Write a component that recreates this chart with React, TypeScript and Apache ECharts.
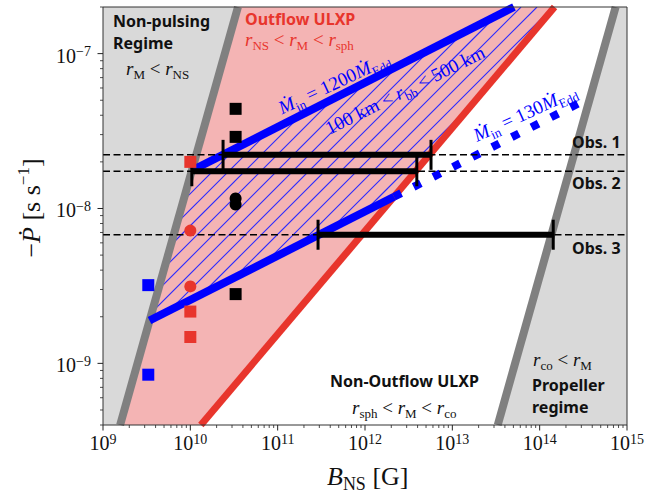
import React, { useEffect, useRef } from 'react';
import * as echarts from 'echarts';

const lg = (v: number) => Math.log10(v);

// Axis extents: magnetic field B_NS [G] and spin-up rate -Pdot [s/s]
const B_RANGE = [1e9, 1e15];
const PDOT_RANGE = [4e-10, 2e-7];
const X_EXPONENTS = [9, 10, 11, 12, 13, 14, 15];
const Y_EXPONENTS = [-9, -8, -7];
const MINOR_MULTIPLES = [2, 3, 4, 5, 6, 7, 8, 9];

// Regime boundaries, each given by its two end points [B, -Pdot]
const nonPulsingEdge = [[1.57e9, 4e-10], [3.51e10, 2e-7]]; // r_M = r_NS
const outflowEdge = [[1.32e10, 4e-10], [1.48e14, 2e-7]]; // r_M = r_sph
const propellerEdge = [[3.31e13, 4e-10], [7.41e14, 2e-7]]; // r_M = r_co

// Constant accretion-rate tracks
const mdot1200Track = [[1.04e10, 1.76e-8], [5.08e13, 2e-7]];
const mdot130Track = [[3.41e9, 1.89e-9], [2.15e12, 1.19e-8]];
const mdot130Extension = [[2.15e12, 1.19e-8], [3.78e14, 5.21e-8]];

// Observed spin-up rates with the allowed field range
const obsLabels = ['Obs. 1', 'Obs. 2', 'Obs. 3'];
const obsPdot = [2.22e-8, 1.74e-8, 6.77e-9];
const obsBMin = [2.37e10, 1.04e10, 2.9e11];
const obsBMax = [5.7e12, 3.92e12, 1.43e14];

// Known sources [B, -Pdot]
const blackSquares = [[3.3e10, 4.4e-8], [3.3e10, 2.9e-8], [3.3e10, 2.8e-9]];
const blackCircles = [[3.3e10, 1.16e-8], [3.3e10, 1.06e-8]];
const redSquares = [[1e10, 2.0e-8], [1e10, 2.16e-9], [1e10, 1.48e-9]];
const redCircles = [[1e10, 7.2e-9], [1e10, 3.14e-9]];
const blueSquares = [[3.3e9, 3.2e-9], [3.3e9, 8.45e-10]];

const SERIF = "'Liberation Serif', 'Times New Roman', 'DejaVu Serif', serif";
const SANS = "'Noto Sans', 'Open Sans', sans-serif";
const BLUE = '#0000ff';
const HATCH = '#2a2aff';
const RED = '#e8352c';
const INK = '#111111';
const GRAY_EDGE = '#808080';
const GRAY_FILL = '#d9d9d9';
const PINK_FILL = '#f4b4b4';

const toXY = (p: number[]) => [lg(p[0]), lg(p[1])];

const X_MIN = lg(B_RANGE[0]);
const X_MAX = lg(B_RANGE[1]);
const Y_MIN = lg(PDOT_RANGE[0]);
const Y_MAX = lg(PDOT_RANGE[1]);

const grayLeft = [[B_RANGE[0], PDOT_RANGE[0]], nonPulsingEdge[0], nonPulsingEdge[1], [B_RANGE[0], PDOT_RANGE[1]]];
const grayRight = [propellerEdge[0], [B_RANGE[1], PDOT_RANGE[0]], [B_RANGE[1], PDOT_RANGE[1]], propellerEdge[1]];
const pinkRegion = [nonPulsingEdge[0], nonPulsingEdge[1], outflowEdge[1], outflowEdge[0]];
const hatchRegion = [mdot130Track[0], mdot130Track[1], outflowEdge[1], mdot1200Track[1], mdot1200Track[0]];

// "/" hatching clipped to a convex polygon given in pixels
function hatchSegments(poly: number[][], step: number) {
  const sums = poly.map((p) => p[0] + p[1]);
  const lo = Math.ceil(Math.min(...sums) / step) * step;
  const hi = Math.max(...sums);
  const segs: number[][][] = [];
  for (let c = lo; c <= hi; c += step) {
    const pts: number[][] = [];
    for (let i = 0; i < poly.length; i++) {
      const a = poly[i];
      const b = poly[(i + 1) % poly.length];
      const fa = a[0] + a[1] - c;
      const fb = b[0] + b[1] - c;
      if ((fa <= 0 && fb > 0) || (fa > 0 && fb <= 0)) {
        const t = fa / (fa - fb);
        pts.push([a[0] + t * (b[0] - a[0]), a[1] + t * (b[1] - a[1])]);
      }
    }
    if (pts.length >= 2) segs.push([pts[0], pts[1]]);
  }
  return segs;
}

function mathRich(color: string, size: number, sub: number) {
  const lh = size + 7;
  return {
    i: { fontFamily: SERIF, fontStyle: 'italic', fontSize: size, lineHeight: lh, fill: color, color },
    r: { fontFamily: SERIF, fontSize: size, lineHeight: lh, fill: color, color },
    sb: { fontFamily: SERIF, fontSize: sub, lineHeight: sub, verticalAlign: 'bottom', fill: color, color },
    sp: { fontFamily: SERIF, fontSize: sub, lineHeight: sub, verticalAlign: 'top', fill: color, color },
  };
}

function mathText(x: number, y: number, text: string, color: string, opts: any = {}) {
  const size = opts.size ?? 19;
  return {
    type: 'text',
    x,
    y,
    z: 50,
    silent: true,
    rotation: opts.rotation ?? 0,
    style: {
      text,
      rich: mathRich(color, size, opts.sub ?? Math.round(size * 0.68)),
      fill: color,
      align: opts.align ?? 'left',
      verticalAlign: 'middle',
    },
  };
}

function plainText(x: number, y: number, text: string, color: string, lineHeight = 22) {
  return {
    type: 'text',
    x,
    y,
    z: 50,
    silent: true,
    style: {
      text,
      fill: color,
      fontFamily: SANS,
      fontSize: 16,
      fontWeight: 'bold',
      lineHeight,
      align: 'left',
      verticalAlign: 'middle',
    },
  };
}

const deg = (d: number) => (d * Math.PI) / 180;

function buildOption() {
  const edgeLine = (name: string, pts: number[][], color: string, width: number, type: any = 'solid') => ({
    type: 'line',
    name,
    data: pts.map(toXY),
    symbol: 'none',
    silent: true,
    z: 3,
    lineStyle: { color, width, type, cap: 'butt' },
  });

  const regions = {
    type: 'custom',
    name: 'regimes',
    silent: true,
    clip: true,
    z: 1,
    data: [[X_MIN, Y_MIN]],
    renderItem: (_params: any, api: any) => {
      const px = (p: number[]) => api.coord(toXY(p));
      const poly = (pts: number[][], fill: string) => ({
        type: 'polygon',
        shape: { points: pts.map(px) },
        style: { fill },
      });
      const segs = hatchSegments(hatchRegion.map(px), 16).map(([a, b]) => ({
        type: 'line',
        shape: { x1: a[0], y1: a[1], x2: b[0], y2: b[1] },
        style: { stroke: HATCH, lineWidth: 1.1, fill: null },
      }));
      return {
        type: 'group',
        children: [poly(grayLeft, GRAY_FILL), poly(grayRight, GRAY_FILL), poly(pinkRegion, PINK_FILL), ...segs],
      };
    },
  };

  const obsDashed = obsPdot.map((p, i) => ({
    type: 'line',
    name: obsLabels[i],
    data: [[X_MIN, lg(p)], [X_MAX, lg(p)]],
    symbol: 'none',
    silent: true,
    z: 4,
    lineStyle: { color: '#000', width: 1.5, type: [7, 3.5] },
  }));

  const obsBars = {
    type: 'custom',
    name: 'field range',
    silent: true,
    z: 5,
    encode: { x: [0, 2], y: 1 },
    data: obsPdot.map((p, i) => [lg(obsBMin[i]), lg(p), lg(obsBMax[i])]),
    renderItem: (_params: any, api: any) => {
      const a = api.coord([api.value(0), api.value(1)]);
      const b = api.coord([api.value(2), api.value(1)]);
      const cap = (x: number, y: number) => ({
        type: 'line',
        shape: { x1: x, y1: y - 15, x2: x, y2: y + 15 },
        style: { stroke: '#000', lineWidth: 3 },
      });
      return {
        type: 'group',
        children: [
          { type: 'line', shape: { x1: a[0], y1: a[1], x2: b[0], y2: b[1] }, style: { stroke: '#000', lineWidth: 6 } },
          cap(a[0], a[1]),
          cap(b[0], b[1]),
        ],
      };
    },
  };

  const markers = (name: string, pts: number[][], symbol: string, color: string) => ({
    type: 'scatter',
    name,
    data: pts.map(toXY),
    symbol,
    symbolSize: 12,
    silent: true,
    z: 6,
    itemStyle: { color, opacity: 1 },
  });

  const tickRich = {
    b: { fontFamily: SERIF, fontSize: 20, lineHeight: 22, fill: INK, color: INK },
    s: { fontFamily: SERIF, fontSize: 14, lineHeight: 14, verticalAlign: 'top', fill: INK, color: INK },
  };

  const axisDecor = {
    type: 'custom',
    name: 'axes',
    silent: true,
    clip: false,
    z: 8,
    data: [[X_MIN, Y_MIN]],
    renderItem: (_params: any, api: any) => {
      const [x0, y0] = api.coord([X_MIN, Y_MIN]);
      const [x1, y1] = api.coord([X_MAX, Y_MAX]);
      const seg = (ax: number, ay: number, bx: number, by: number, w: number) => ({
        type: 'line',
        shape: { x1: ax, y1: ay, x2: bx, y2: by },
        style: { stroke: '#222', lineWidth: w },
      });
      const kids: any[] = [];
      kids.push({
        type: 'rect',
        shape: { x: x0, y: y1, width: x1 - x0, height: y0 - y1 },
        style: { fill: 'none', stroke: '#333', lineWidth: 1 },
      });
      X_EXPONENTS.forEach((e) => {
        const px = api.coord([e, Y_MIN])[0];
        kids.push(seg(px, y0, px, y0 + 5.5, 1));
      });
      for (let e = X_EXPONENTS[0]; e < X_EXPONENTS[X_EXPONENTS.length - 1]; e++) {
        MINOR_MULTIPLES.forEach((k) => {
          const px = api.coord([e + lg(k), Y_MIN])[0];
          kids.push(seg(px, y0, px, y0 + 3, 0.8));
        });
      }
      Y_EXPONENTS.forEach((e) => {
        const py = api.coord([X_MIN, e])[1];
        kids.push(seg(x0 - 5.5, py, x0, py, 1));
        kids.push({
          type: 'text',
          x: x0 - 12,
          y: py + 2,
          style: {
            text: `{b|10}{s|\u2212${Math.abs(e)}}`,
            rich: tickRich,
            fill: INK,
            align: 'right',
            verticalAlign: 'middle',
          },
        });
      });
      for (let e = Math.floor(Y_MIN); e < Math.ceil(Y_MAX); e++) {
        MINOR_MULTIPLES.forEach((k) => {
          const v = e + lg(k);
          if (v < Y_MIN - 1e-9 || v > Y_MAX + 1e-9) return;
          const py = api.coord([X_MIN, v])[1];
          kids.push(seg(x0 - 3, py, x0, py, 0.8));
        });
      }
      return { type: 'group', children: kids };
    },
  };

  const graphics = [
    plainText(113, 32, 'Non-pulsing\nRegime', INK, 22),
    mathText(126, 68, '{i|r}{sb|M}{r| < }{i|r}{sb|NS}', INK),
    plainText(245, 19, 'Outflow ULXP', RED),
    mathText(245, 39, '{i|r}{sb|NS}{r| < }{i|r}{sb|M}{r| < }{i|r}{sb|sph}', RED),
    mathText(334, 83, '{i|\u1E40}{sb|in}{r| = 1200}{i|\u1E40}{sb|Edd}', BLUE, { align: 'center', rotation: deg(25) }),
    mathText(405, 90, '{r|100 km < }{i|r}{sb|bb}{r| < 500 km}', BLUE, { align: 'center', rotation: deg(26.5) }),
    mathText(525, 113, '{i|\u1E40}{sb|in}{r| = 130}{i|\u1E40}{sb|Edd}', BLUE, { align: 'center', rotation: deg(24.5) }),
    plainText(572, 142, obsLabels[0], INK),
    plainText(572, 183, obsLabels[1], INK),
    plainText(572, 248, obsLabels[2], INK),
    plainText(330, 381, 'Non-Outflow ULXP', INK),
    mathText(352, 407, '{i|r}{sb|sph}{r| < }{i|r}{sb|M}{r| < }{i|r}{sb|co}', INK),
    mathText(533, 359, '{i|r}{sb|co}{r| < }{i|r}{sb|M}', INK),
    plainText(532, 395.5, 'Propeller\nregime', INK, 22),
    mathText(327, 476, '{i|B}{sb|NS}{r| [G]}', INK, { size: 26, sub: 18 }),
    mathText(31, 208, '{r|\u2212}{i|\u1E56}{r| [s s}{sp|\u22121}{r|]}', INK, {
      size: 26,
      sub: 17,
      align: 'center',
      rotation: deg(90),
    }),
  ];

  return {
    animation: false,
    backgroundColor: '#ffffff',
    grid: { left: 103, top: 7, width: 524, height: 418, containLabel: false },
    xAxis: {
      type: 'value',
      min: X_MIN,
      max: X_MAX,
      interval: 1,
      axisLine: { show: false },
      axisTick: { show: false },
      splitLine: { show: false },
      axisLabel: {
        margin: 7,
        showMinLabel: true,
        showMaxLabel: true,
        formatter: (v: number) => `{b|10}{s|${Math.round(v)}}`,
        rich: {
          b: { fontFamily: SERIF, fontSize: 20, lineHeight: 22, color: INK },
          s: { fontFamily: SERIF, fontSize: 14, lineHeight: 14, verticalAlign: 'top', color: INK },
        },
      },
    },
    yAxis: {
      type: 'value',
      min: Y_MIN,
      max: Y_MAX,
      axisLine: { show: false },
      axisTick: { show: false },
      axisLabel: { show: false },
      splitLine: { show: false },
    },
    graphic: graphics,
    series: [
      regions,
      edgeLine('r_M = r_NS', nonPulsingEdge, GRAY_EDGE, 8),
      edgeLine('r_M = r_co', propellerEdge, GRAY_EDGE, 8),
      edgeLine('r_M = r_sph', outflowEdge, RED, 7),
      edgeLine('1200 Mdot_Edd', mdot1200Track, BLUE, 8),
      edgeLine('130 Mdot_Edd', mdot130Track, BLUE, 8),
      edgeLine('130 Mdot_Edd (non-outflow)', mdot130Extension, BLUE, 8, [8, 14]),
      ...obsDashed,
      obsBars,
      markers('black squares', blackSquares, 'rect', '#000'),
      markers('black circles', blackCircles, 'circle', '#000'),
      markers('red squares', redSquares, 'rect', RED),
      markers('red circles', redCircles, 'circle', RED),
      markers('blue squares', blueSquares, 'rect', BLUE),
      axisDecor,
    ],
  };
}

export default function App() {
  const ref = useRef<HTMLDivElement>(null);
  useEffect(() => {
    if (!ref.current) return;
    const chart = echarts.init(ref.current, undefined, { renderer: 'svg' });
    chart.setOption(buildOption() as any);
    return () => chart.dispose();
  }, []);
  return (
    <div
      ref={ref}
      style={{ position: 'fixed', left: 0, top: 0, width: 651, height: 492, background: '#fff' }}
    />
  );
}
